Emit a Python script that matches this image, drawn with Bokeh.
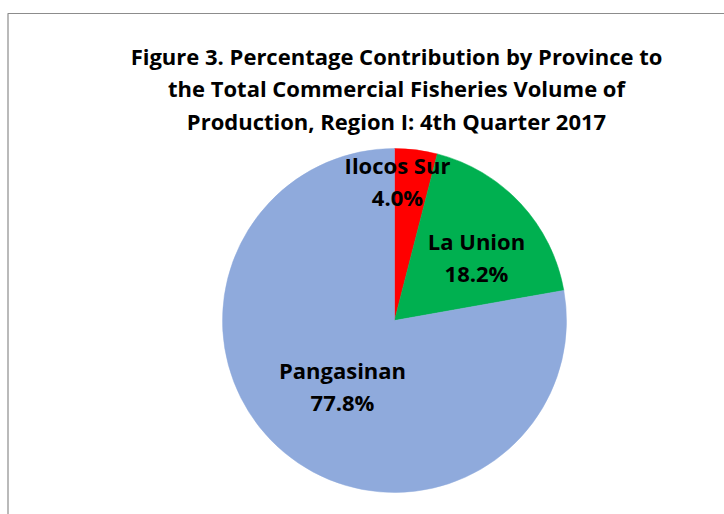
import math
from bokeh.plotting import figure
from bokeh.models import Range1d, ColumnDataSource
from bokeh.core.properties import value
from bokeh.embed import file_html
from bokeh.resources import INLINE

# ---- data ----
provinces = ["Ilocos Sur", "La Union", "Pangasinan"]
shares = [4.0, 18.2, 77.8]
colors = ["#FF0000", "#00B050", "#8FAADC"]
title_lines = [
    "Figure 3. Percentage Contribution by Province to",
    "the Total Commercial Fisheries Volume of",
    "Production, Region I: 4th Quarter 2017",
]

# ---- layout ----
W, H = 724, 514
FONT = "Open Sans"
FS = "22px"
cx, cy, R = 394, 194, 172
# label centre offsets (pixels from pie centre)
label_offsets = [(3, 140), (82, 64), (-52, -65)]
line_gap = 16

p = figure(width=W, height=H, x_range=Range1d(0, W), y_range=Range1d(0, H),
           output_backend="svg", toolbar_location=None, min_border=0,
           background_fill_color="white", border_fill_color="white")
p.axis.visible = False
p.grid.visible = False
p.outline_line_color = None

# border (chart area edge)
p.line(x=[7.5, 7.5, W], y=[0, 501, 501], line_color="#8C8C8C", line_width=1.2)

# wedges
total = sum(shares)
starts, ends = [], []
acc = 0.0
for s in shares:
    starts.append(math.pi / 2 - 2 * math.pi * acc / total)
    acc += s
    ends.append(math.pi / 2 - 2 * math.pi * acc / total)
src = ColumnDataSource(dict(start=starts, end=ends, color=colors,
                            x=[cx] * len(shares), y=[cy] * len(shares)))
p.wedge(x="x", y="y", radius=R, start_angle="start", end_angle="end",
        direction="clock", fill_color="color", line_color="color", line_width=0.5,
        source=src)

# labels
names_x, names_y, pct_x, pct_y, pct_txt = [], [], [], [], []
for name, s, (dx, dy) in zip(provinces, shares, label_offsets):
    names_x.append(cx + dx)
    names_y.append(cy + dy + line_gap)
    pct_x.append(cx + dx)
    pct_y.append(cy + dy - line_gap)
    pct_txt.append(f"{s:.1f}%")
p.text(x=names_x, y=names_y, text=provinces, text_font=value(FONT),
       text_font_style="bold", text_font_size=FS, text_align="center",
       text_baseline="middle", text_color="black")
p.text(x=pct_x, y=pct_y, text=pct_txt, text_font=value(FONT),
       text_font_style="bold", text_font_size=FS, text_align="center",
       text_baseline="middle", text_color="black")

# title
tx = 396
ty = [459 - 32.5 * i for i in range(len(title_lines))]
p.text(x=[tx] * len(title_lines), y=ty, text=title_lines, text_font=value(FONT),
       text_font_style="bold", text_font_size=FS, text_align="center",
       text_baseline="alphabetic", text_color="black")

open("out.html", "w").write(file_html(p, INLINE))
